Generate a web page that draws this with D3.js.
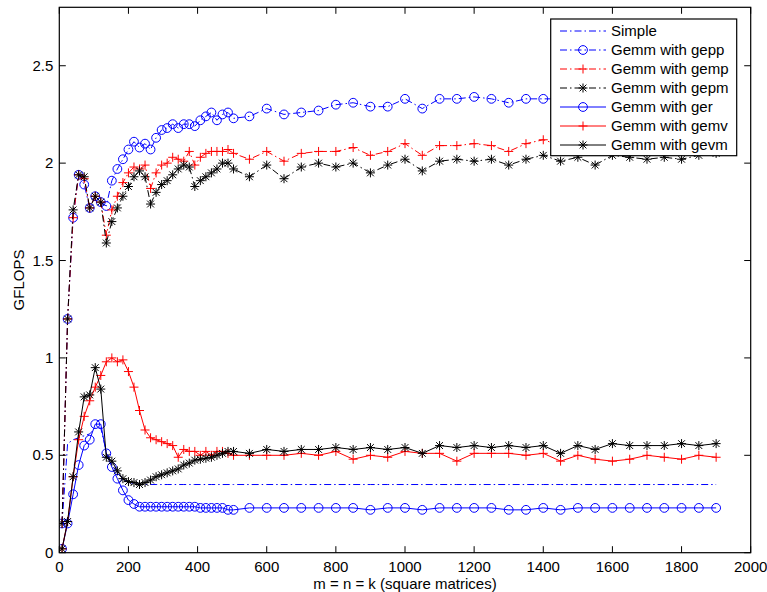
<!DOCTYPE html>
<html><head><meta charset="utf-8">
<script src="https://cdn.jsdelivr.net/npm/d3@7"></script>
<style>body{margin:0;background:#fff}svg{display:block}text{font-family:"Liberation Sans",Arial,Helvetica,sans-serif;}</style>
</head><body><svg id="c" width="767" height="592"></svg>
<script>
const xValues = [8,24,40,56,72,88,104,120,136,152,168,184,200,216,232,248,264,280,296,312,328,344,360,376,392,408,424,440,456,472,488,504,
  550,600,650,700,750,800,850,900,950,1000,1050,1100,1150,1200,1250,1300,1350,1400,1450,1500,1550,1600,1650,1700,1750,1800,1850,1900];
const simple = [0.15,0.56,0.58,0.59,0.60,0.61,0.64,0.64,0.52,0.45,0.41,0.38,0.36,0.355,0.35,0.35,0.35,0.35,0.35,0.35,0.35,0.35,0.35,0.35,0.35,0.35,0.35,0.35,0.35,0.35,0.35,0.35,
  0.35,0.35,0.35,0.35,0.35,0.35,0.35,0.35,0.35,0.35,0.35,0.35,0.35,0.35,0.35,0.35,0.35,0.35,0.35,0.35,0.35,0.35,0.35,0.35,0.35,0.35,0.35,0.35];
const gepp = [0.15,1.20,1.72,1.94,1.89,1.77,1.83,1.80,1.78,1.91,1.97,2.02,2.07,2.11,2.08,2.10,2.07,2.13,2.17,2.18,2.20,2.18,2.20,2.20,2.19,2.22,2.24,2.26,2.22,2.25,2.26,2.23,
  2.24,2.28,2.25,2.26,2.27,2.30,2.31,2.29,2.29,2.33,2.28,2.33,2.33,2.34,2.33,2.31,2.33,2.33,2.33,2.34,2.33,2.35,2.34,2.34,2.35,2.34,2.35,2.35];
const gemp = [0.15,1.20,1.72,1.94,1.92,1.77,1.83,1.80,1.63,1.76,1.83,1.90,1.95,1.98,1.97,1.99,1.87,1.95,1.99,2.00,2.03,2.02,2.01,2.06,1.99,2.03,2.05,2.06,2.06,2.06,2.07,2.05,
  2.02,2.06,2.01,2.05,2.06,2.06,2.08,2.04,2.06,2.10,2.04,2.09,2.09,2.10,2.09,2.06,2.10,2.12,2.09,2.11,2.10,2.11,2.12,2.11,2.12,2.11,2.12,2.12];
const gepm = [0.15,1.20,1.76,1.94,1.93,1.77,1.83,1.80,1.59,1.70,1.77,1.83,1.88,1.93,1.96,1.93,1.79,1.85,1.89,1.91,1.94,1.97,1.99,1.98,1.88,1.91,1.93,1.95,1.97,2.00,2.00,1.97,
  1.93,1.99,1.92,1.98,2.00,1.98,2.00,1.95,1.99,2.02,1.96,2.01,2.02,2.01,2.02,1.99,2.02,2.04,2.01,2.03,1.99,2.04,2.03,2.02,2.03,2.02,2.04,2.05];
const ger = [0.02,0.15,0.30,0.45,0.55,0.58,0.66,0.66,0.51,0.44,0.38,0.32,0.27,0.25,0.236,0.236,0.236,0.236,0.236,0.236,0.236,0.236,0.236,0.236,0.236,0.23,0.23,0.23,0.23,0.23,0.22,0.22,
  0.23,0.23,0.23,0.23,0.23,0.23,0.23,0.22,0.23,0.23,0.22,0.23,0.23,0.23,0.23,0.22,0.22,0.23,0.22,0.23,0.23,0.23,0.23,0.23,0.23,0.23,0.23,0.23];
const gemv = [0.02,0.16,0.39,0.58,0.70,0.78,0.85,0.91,0.98,1.00,0.98,0.99,0.93,0.85,0.73,0.63,0.59,0.58,0.57,0.56,0.55,0.49,0.53,0.52,0.52,0.50,0.52,0.50,0.52,0.52,0.51,0.50,
  0.50,0.50,0.50,0.51,0.50,0.52,0.48,0.50,0.49,0.52,0.51,0.51,0.47,0.51,0.51,0.51,0.50,0.51,0.47,0.50,0.48,0.47,0.48,0.50,0.49,0.48,0.50,0.49];
const gevm = [0.02,0.16,0.39,0.62,0.80,0.81,0.95,0.84,0.49,0.47,0.42,0.38,0.365,0.36,0.35,0.36,0.373,0.39,0.40,0.41,0.42,0.43,0.45,0.46,0.475,0.48,0.485,0.49,0.50,0.51,0.52,0.52,
  0.51,0.53,0.52,0.53,0.53,0.54,0.53,0.54,0.53,0.54,0.51,0.55,0.54,0.55,0.54,0.55,0.54,0.55,0.51,0.55,0.53,0.56,0.55,0.55,0.55,0.56,0.55,0.56];
const seriesNames = ["Simple","Gemm with gepp","Gemm with gemp","Gemm with gepm","Gemm with ger","Gemm with gemv","Gemm with gevm"];
const seriesColors = ["#0000ff","#0000ff","#ff0000","#000000","#0000ff","#ff0000","#000000"];
const seriesDash = ["dashdot","dashdot","dashdot","dashdot","solid","solid","solid"];
const seriesMarker = ["none","circle","plus","star","circle","plus","star"];
const xTicks = [0,200,400,600,800,1000,1200,1400,1600,1800,2000];
const yTicks = [0,0.5,1,1.5,2,2.5];
const xLabel = "m = n = k (square matrices)";
const yLabel = "GFLOPS";

const seriesData = [simple,gepp,gemp,gepm,ger,gemv,gevm];
const svg = d3.select("#c");
const L = 59.3, R = 750.7, T = 7.3, B = 552.7;
const x = d3.scaleLinear().domain([0,2000]).range([L,R]);
const y = d3.scaleLinear().domain([0,2.8]).range([B,T]);
const FS = 15;

svg.append("defs").append("clipPath").attr("id","clip").append("rect")
  .attr("x",L).attr("y",T).attr("width",R-L).attr("height",B-T);

function markerPath(type, cx, cy){
  const a = 4.5;
  if(type==="plus") return `M${cx-a},${cy}H${cx+a}M${cx},${cy-a}V${cy+a}`;
  if(type==="star"){ const b=3.4; return `M${cx-a},${cy}H${cx+a}M${cx},${cy-a}V${cy+a}M${cx-b},${cy-b}L${cx+b},${cy+b}M${cx-b},${cy+b}L${cx+b},${cy-b}`; }
  return "";
}
function drawMarker(g, type, cx, cy, color){
  if(type==="circle") g.append("circle").attr("cx",cx).attr("cy",cy).attr("r",4.4).attr("fill","none").attr("stroke",color).attr("stroke-width",1);
  else if(type!=="none") g.append("path").attr("d",markerPath(type,cx,cy)).attr("fill","none").attr("stroke",color).attr("stroke-width",1);
}
const dashArr = {dashdot:"7,3,1.5,3", solid:null};

const plot = svg.append("g").attr("clip-path","url(#clip)");
const line = d3.line().x(d=>x(d[0])).y(d=>y(d[1]));
seriesData.forEach((vals,i)=>{
  const pts = xValues.map((xv,j)=>[xv,vals[j]]);
  const g = plot.append("g");
  g.append("path").attr("d",line(pts)).attr("fill","none").attr("stroke",seriesColors[i])
    .attr("stroke-width",1).attr("stroke-dasharray",dashArr[seriesDash[i]]);
  pts.forEach(p=>drawMarker(g, seriesMarker[i], x(p[0]), y(p[1]), seriesColors[i]));
});

// axes box
const ax = svg.append("g");
ax.append("rect").attr("x",L).attr("y",T).attr("width",R-L).attr("height",B-T)
  .attr("fill","none").attr("stroke","#000").attr("stroke-width",1.2);
const tl = 6.5;
xTicks.forEach(t=>{
  const px = x(t);
  ax.append("line").attr("x1",px).attr("x2",px).attr("y1",B).attr("y2",B-tl).attr("stroke","#000");
  ax.append("line").attr("x1",px).attr("x2",px).attr("y1",T).attr("y2",T+tl).attr("stroke","#000");
  ax.append("text").attr("x",px).attr("y",571.5).attr("text-anchor","middle").attr("font-size",FS).text(t);
});
yTicks.forEach(t=>{
  const py = y(t);
  ax.append("line").attr("x1",L).attr("x2",L+tl).attr("y1",py).attr("y2",py).attr("stroke","#000");
  ax.append("line").attr("x1",R).attr("x2",R-tl).attr("y1",py).attr("y2",py).attr("stroke","#000");
  ax.append("text").attr("x",L-6).attr("y",py+5).attr("text-anchor","end").attr("font-size",FS).text(t);
});
ax.append("text").attr("x",(L+R)/2).attr("y",589).attr("text-anchor","middle").attr("font-size",FS).text(xLabel);
ax.append("text").attr("transform",`translate(24,${(T+B)/2}) rotate(-90)`).attr("text-anchor","middle").attr("font-size",FS).text(yLabel);

// legend
const lg = svg.append("g");
const lx0 = 550.7, ly0 = 19, lw = 186, lh = 136.7;
lg.append("rect").attr("x",lx0).attr("y",ly0).attr("width",lw).attr("height",lh)
  .attr("fill","#fff").attr("stroke","#000").attr("stroke-width",1.2);
seriesNames.forEach((name,i)=>{
  const yy = 31 + i*19;
  lg.append("line").attr("x1",560).attr("x2",606).attr("y1",yy).attr("y2",yy)
    .attr("stroke",seriesColors[i]).attr("stroke-width",1).attr("stroke-dasharray",dashArr[seriesDash[i]]);
  drawMarker(lg, seriesMarker[i], 583, yy, seriesColors[i]);
  lg.append("text").attr("x",611).attr("y",yy+5).attr("font-size",FS).text(name);
});
</script></body></html>
